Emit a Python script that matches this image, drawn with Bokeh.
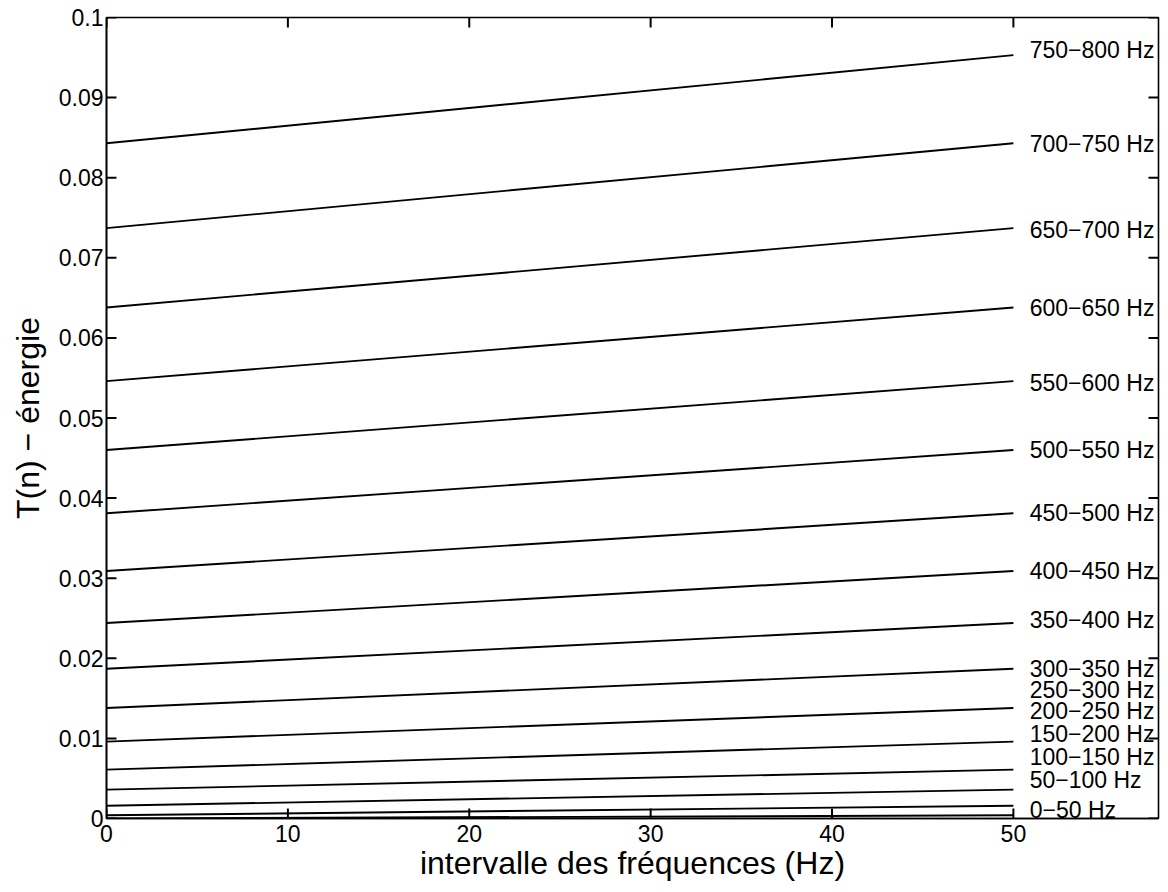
from bokeh.plotting import figure
from bokeh.models import Range1d, FixedTicker, CustomJSTickFormatter
from bokeh.core.properties import value
from bokeh.embed import file_html
from bokeh.resources import INLINE

# ---- data ----
freq_edges = [0, 50, 100, 150, 200, 250, 300, 350, 400, 450, 500, 550, 600, 650, 700, 750, 800]
energy_at_edge = [0.0, 0.0004, 0.0016, 0.0036, 0.0061, 0.0096, 0.0138, 0.0187, 0.0244,
                  0.0309, 0.0381, 0.0460, 0.0546, 0.0638, 0.0737, 0.0843, 0.0953]
interval_x = [0, 50]
label_y = [0.0010, 0.0048, 0.0077, 0.0105, 0.0134, 0.0161, 0.0187, 0.0248,
           0.0309, 0.0381, 0.0460, 0.0544, 0.0637, 0.0735, 0.0842, 0.0960]
x_ticks = [0, 10, 20, 30, 40, 50]
y_ticks = [0, 0.01, 0.02, 0.03, 0.04, 0.05, 0.06, 0.07, 0.08, 0.09, 0.1]
x_min, x_max = 0, 58
y_min, y_max = 0, 0.1

band_labels = [f"{a}\u2212{b} Hz" for a, b in zip(freq_edges[:-1], freq_edges[1:])]
xs = [interval_x for _ in band_labels]
ys = [[energy_at_edge[i], energy_at_edge[i + 1]] for i in range(len(band_labels))]

FONT = "Liberation Sans"
W, H = 1168, 892
BL, BR, BT, BB = 106, 10, 17, 74
frame_w = W - BL - BR
frame_h = H - BT - BB
TICK_PX = 10
tick_dx = TICK_PX * (x_max - x_min) / frame_w
tick_dy = TICK_PX * (y_max - y_min) / frame_h

p = figure(width=W, height=H, output_backend="svg", toolbar_location=None,
           x_range=Range1d(x_min, x_max), y_range=Range1d(y_min, y_max),
           min_border_left=BL, min_border_right=BR, min_border_top=BT, min_border_bottom=BB)
p.background_fill_color = "white"
p.border_fill_color = "white"
p.outline_line_color = "black"
p.outline_line_width = 1.6
p.xgrid.visible = False
p.ygrid.visible = False

p.multi_line(xs=xs, ys=ys, line_color="black", line_width=1.9)
p.text(x=[50.9] * len(band_labels), y=label_y, text=band_labels,
       text_font=value(FONT), text_font_size="23px", text_baseline="middle",
       text_align="left", text_color="black")

# inward ticks on all four sides of the box
ny, nx = len(y_ticks), len(x_ticks)
p.segment(x0=[x_min] * ny, y0=y_ticks, x1=[x_min + tick_dx] * ny, y1=y_ticks,
          line_color="black", line_width=2)
p.segment(x0=[x_max] * ny, y0=y_ticks, x1=[x_max - tick_dx] * ny, y1=y_ticks,
          line_color="black", line_width=2)
p.segment(x0=x_ticks, y0=[y_min] * nx, x1=x_ticks, y1=[y_min + tick_dy] * nx,
          line_color="black", line_width=2)
p.segment(x0=x_ticks, y0=[y_max] * nx, x1=x_ticks, y1=[y_max - tick_dy] * nx,
          line_color="black", line_width=2)

xa = p.xaxis[0]
ya = p.yaxis[0]
for ax, ticks in ((xa, x_ticks), (ya, y_ticks)):
    ax.ticker = FixedTicker(ticks=ticks)
    ax.major_tick_in = 0
    ax.major_tick_out = 0
    ax.minor_tick_line_color = None
    ax.axis_line_color = "black"
    ax.axis_line_width = 1.6
    ax.major_label_text_font = FONT
    ax.major_label_text_color = "black"
    ax.major_label_text_font_size = "23px"
    ax.axis_label_text_font = FONT
    ax.axis_label_text_font_size = "32px"
    ax.axis_label_text_font_style = "normal"
    ax.axis_label_text_color = "black"

xa.major_label_standoff = 6
ya.major_label_standoff = 3
ya.formatter = CustomJSTickFormatter(code="return String(Math.round(tick*100)/100);")

xa.axis_label = "intervalle des fréquences (Hz)"
ya.axis_label = "T(n) \u2212 énergie"
xa.axis_label_standoff = 0
ya.axis_label_standoff = 10

open("out.html", "w").write(file_html(p, INLINE))
